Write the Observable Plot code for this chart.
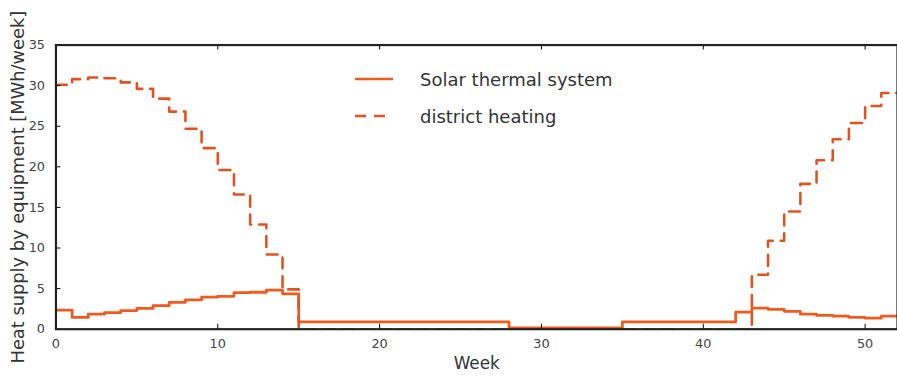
<!DOCTYPE html>
<html>
<head>
<meta charset="utf-8">
<script src="https://cdn.jsdelivr.net/npm/d3@7"></script>
<script src="https://cdn.jsdelivr.net/npm/@observablehq/plot@0.6"></script>
<style>
  html, body { margin: 0; padding: 0; background: #fff; overflow: hidden; }
  #wrap { position: relative; width: 897px; height: 378px; overflow: hidden; font-family: "DejaVu Sans", sans-serif; }
  #legend { position: absolute; left: 0; top: 0; }
  .lg-row { position: absolute; display: flex; align-items: center; }
  .lg-row span { font-size: 18px; color: #333; margin-left: 27px; white-space: nowrap; }
</style>
</head>
<body>
<div id="wrap"><div id="chart"></div><div id="legend"></div></div>
<script>
// ---- data ----
const seriesNames = ["Solar thermal system", "district heating"];
const xTicks = [0, 10, 20, 30, 40, 50];
const yTicks = [0, 5, 10, 15, 20, 25, 30, 35];
const xLabel = "Week";
const yLabel = "Heat supply by equipment [MWh/week]";

// weekly values, weeks 0..51 (step drawn from week i to i+1)
const solarThermal = [
  2.35, 1.45, 1.85, 2.05, 2.3, 2.55, 2.9, 3.3, 3.6, 3.95, 4.05, 4.5, 4.55, 4.8, 4.35,
  0.9, 0.9, 0.9, 0.9, 0.9, 0.9, 0.9, 0.9, 0.9, 0.9, 0.9, 0.9, 0.9,
  0.15, 0.15, 0.15, 0.15, 0.15, 0.15, 0.15,
  0.9, 0.9, 0.9, 0.9, 0.9, 0.9, 0.9,
  2.1, 2.6, 2.45, 2.2, 1.85, 1.7, 1.6, 1.45, 1.35, 1.6
];
const districtHeating = [
  30.1, 30.8, 31.0, 30.9, 30.4, 29.6, 28.4, 26.8, 24.7, 22.3, 19.6, 16.6, 12.9, 9.2, 4.9,
  0, 0, 0, 0, 0, 0, 0, 0, 0, 0, 0, 0, 0, 0,
  0, 0, 0, 0, 0, 0, 0, 0, 0, 0, 0, 0, 0, 0,
  6.7, 10.9, 14.5, 17.9, 20.8, 23.4, 25.4, 27.5, 29.1
];

// ---- build step tables (last value held to week 52) ----
function stepRows(values) {
  const rows = values.map((v, i) => ({week: i, value: v}));
  rows.push({week: values.length, value: values[values.length - 1]});
  return rows;
}
const solarRows = stepRows(solarThermal);
const districtRows = stepRows(districtHeating);

const solidColor = "#f25a1c";
const dashColor = "#e2531f";
const dash = "11,8";

const W = 906, H = 378, mL = 56, mR = 0, mT = 45, mB = 46;
const plotW = W - mL - mR, plotH = H - mT - mB;

const chart = Plot.plot({
  width: W, height: H,
  marginLeft: mL, marginRight: mR, marginTop: mT, marginBottom: mB,
  style: {fontFamily: "DejaVu Sans", fontSize: "13px", color: "#444", background: "white"},
  x: {domain: [0, 52], ticks: xTicks, tickSize: 0, tickPadding: 10, label: null, tickFormat: d => String(d)},
  y: {domain: [0, 35], ticks: yTicks, tickSize: 0, tickPadding: 11, label: null, tickFormat: d => String(d)},
  marks: [
    Plot.lineY(solarRows, {x: "week", y: "value", curve: "step-after", stroke: solidColor, strokeWidth: 2.8, clip: true}),
    Plot.lineY(districtRows, {x: "week", y: "value", curve: "step-after", stroke: dashColor, strokeWidth: 2.6, strokeDasharray: dash, clip: true}),
    Plot.ruleX(xTicks, {x: d => d, insetTop: plotH - 5, stroke: "#000", strokeWidth: 1}),
    Plot.ruleX(xTicks, {x: d => d, insetBottom: plotH - 5, stroke: "#000", strokeWidth: 1}),
    Plot.ruleY(yTicks, {y: d => d, insetRight: plotW - 5, stroke: "#000", strokeWidth: 1}),
    Plot.frame({stroke: "#222", strokeWidth: 2.2}),
    Plot.text([xLabel], {frameAnchor: "bottom", lineAnchor: "middle", textAnchor: "middle", dy: 35, fontSize: 17, fill: "#333", text: d => d}),
    Plot.text([yLabel], {frameAnchor: "left", textAnchor: "middle", lineAnchor: "middle", dx: -38, rotate: -90, fontSize: 18, fill: "#333", text: d => d})
  ]
});
document.getElementById("chart").appendChild(chart);

// ---- legend (inside the plot area, top center) ----
const legend = document.getElementById("legend");
const legendRows = [
  {name: seriesNames[0], dashed: false, top: 79, color: solidColor},
  {name: seriesNames[1], dashed: true, top: 116, color: dashColor}
];
legendRows.forEach(r => {
  const row = document.createElement("div");
  row.className = "lg-row";
  row.style.left = "355px";
  row.style.top = (r.top - 12) + "px";
  row.style.height = "24px";
  row.innerHTML = `<svg width="38" height="24"><line x1="0" x2="38" y1="12" y2="12" stroke="${r.color}" stroke-width="2.6" ${r.dashed ? `stroke-dasharray="${dash}"` : ""}/></svg><span>${r.name}</span>`;
  legend.appendChild(row);
});
</script>
</body>
</html>
